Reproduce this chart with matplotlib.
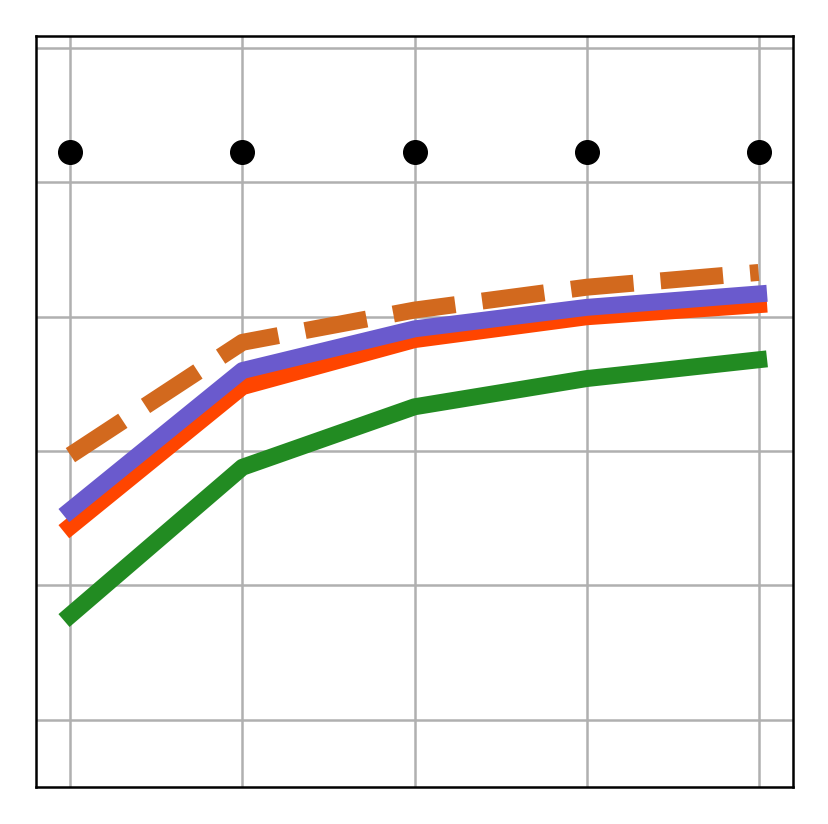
import matplotlib
matplotlib.use("Agg")
import matplotlib.pyplot as plt

x = [0, 1, 2, 3, 4]
green = [0.78, 1.88, 2.33, 2.54, 2.68]
red = [1.44, 2.48, 2.83, 3.00, 3.09]
purple = [1.56, 2.60, 2.91, 3.07, 3.17]
orange = [1.97, 2.81, 3.05, 3.22, 3.33]
dots = [4.23, 4.23, 4.23, 4.23, 4.23]

fig = plt.figure(figsize=(8.29, 8.24), dpi=100)
ax = fig.add_axes([36 / 829, 1 - 787 / 824, (793 - 36) / 829, (787 - 36) / 824])

ax.grid(True, color="#b0b0b0", linewidth=1.8)
ax.set_axisbelow(True)

lw = 12.2
ax.plot(x, green, color="forestgreen", linewidth=lw, solid_capstyle="projecting")
ax.plot(x, red, color="orangered", linewidth=lw, solid_capstyle="projecting")
ax.plot(x, purple, color="slateblue", linewidth=lw, solid_capstyle="projecting")
ax.plot(x, orange, "--", color="chocolate", linewidth=lw)
ax.plot(x, dots, "o", color="black", markersize=17, linestyle="none")

ax.set_xlim(-0.2, 4.2)
ax.set_ylim(-0.5, 5.09)
ax.set_xticks(x)
ax.set_yticks([0, 1, 2, 3, 4, 5])
ax.tick_params(length=0, labelbottom=False, labelleft=False)
for s in ax.spines.values():
    s.set_linewidth(1.8)

fig.savefig("out.png", dpi=100)
